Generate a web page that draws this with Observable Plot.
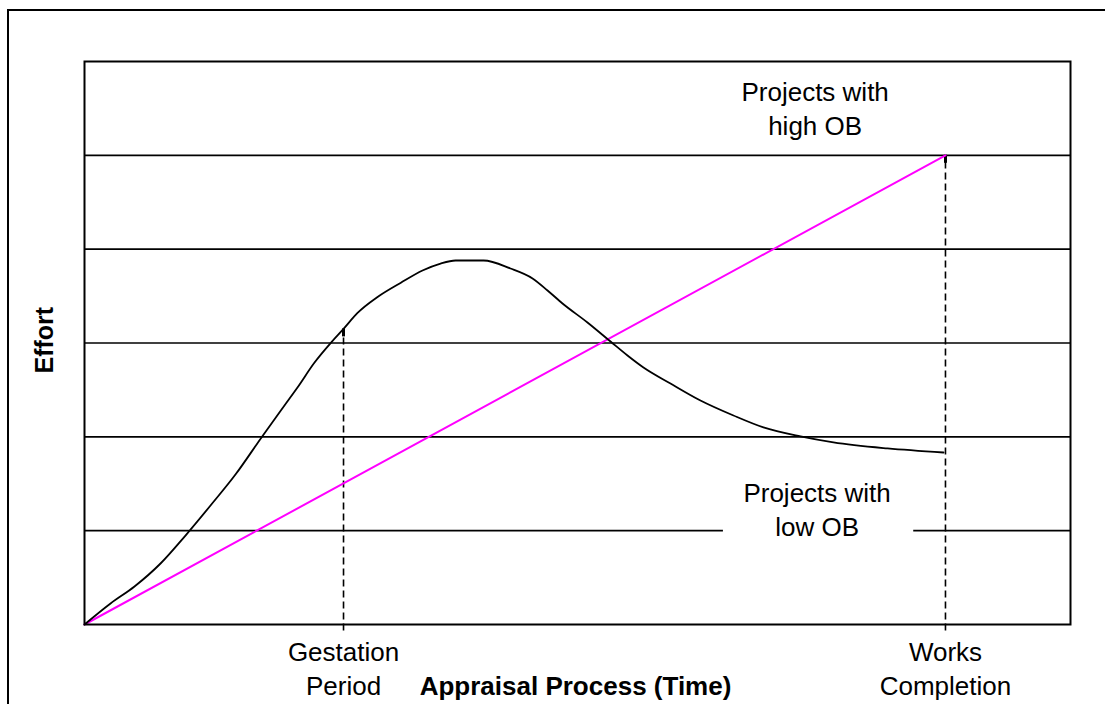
<!DOCTYPE html>
<html>
<head>
<meta charset="utf-8">
<script src="https://cdn.jsdelivr.net/npm/d3@7"></script>
<script src="https://cdn.jsdelivr.net/npm/@observablehq/plot@0.6"></script>
<style>
  html, body { margin: 0; padding: 0; background: #fff; overflow: hidden; }
  #wrap { position: relative; width: 1105px; height: 704px; overflow: hidden; }
  #border { position: absolute; left: 7px; top: 9px; width: 1200px; height: 800px; border-left: 2px solid #000; border-top: 2px solid #000; pointer-events: none; }
  #chart { position: absolute; left: 0; top: 0; }
</style>
</head>
<body>
<div id="wrap"><div id="chart"></div><div id="border"></div></div>
<script>
// Effort curve (time, effort)
const curveTime = [0, 2.64, 5.07, 7.71, 10.24, 12.78, 15.31, 17.95, 20.28, 21.60, 23.33, 25.05, 26.27,
  27.69, 29.72, 32.05, 34.28, 36.11, 37.63, 40.47, 43.20, 45.44, 46.96, 48.48, 51.01, 53.35, 55.07, 56.69, 59.43,
  62.47, 65.82, 68.86, 72.62, 75.96, 81.44, 87.12];
const curveEffort = [0, 0.224, 0.405, 0.650, 0.948, 1.268, 1.598, 1.993, 2.334, 2.526, 2.792, 3.010, 3.150,
  3.320, 3.490, 3.640, 3.773, 3.847, 3.879, 3.879, 3.794, 3.688, 3.560, 3.421, 3.219, 3.016, 2.867, 2.739, 2.568,
  2.387, 2.227, 2.100, 2.004, 1.940, 1.876, 1.833];
// Straight (magenta) line endpoints
const lineTime = [0, 87.32];
const lineEffort = [0, 5];
// Gridlines
const gridFull = [2, 3, 4, 5];
const gridGapped = 1;
const gapStart = 64.8, gapEnd = 84.1;
// Milestones (dashed drop lines)
const milestoneNames = ["Gestation\nPeriod", "Works\nCompletion"];
const milestoneTime = [26.27, 87.32];
const milestoneTop = [3.15, 5];
// Annotations
const annoText = ["Projects with\nhigh OB", "Projects with\nlow OB"];
const annoTime = [74.1, 74.3];
const annoEffort = [5.51, 1.24];
const xTitle = "Appraisal Process (Time)";
const yTitle = "Effort";

const curve = curveTime.map((t, i) => ({t, e: curveEffort[i]}));
const straight = lineTime.map((t, i) => ({t, e: lineEffort[i]}));
const milestones = milestoneTime.map((t, i) => ({t, top: milestoneTop[i], name: milestoneNames[i]}));
const annos = annoText.map((s, i) => ({s, t: annoTime[i], e: annoEffort[i]}));
const gapped = [{y: gridGapped, x1: 0, x2: gapStart}, {y: gridGapped, x1: gapEnd, x2: 100}];

const font = "'Liberation Sans', Arial, Helvetica, sans-serif";
const chart = Plot.plot({
  width: 1105, height: 704,
  marginLeft: 84, marginRight: 35, marginTop: 61, marginBottom: 80,
  style: {fontFamily: font, background: "#fff", color: "#000"},
  x: {domain: [0, 100], axis: null},
  y: {domain: [0, 6], axis: null},
  marks: [
    Plot.ruleY(gridFull, {stroke: "#000", strokeWidth: 1.6}),
    Plot.ruleY(gapped, {y: "y", x1: "x1", x2: "x2", stroke: "#000", strokeWidth: 1.6}),
    Plot.ruleX(milestones, {x: "t", y1: -0.07, y2: "top", stroke: "#000", strokeWidth: 1.6, strokeDasharray: "7,4"}),
    Plot.ruleX(milestones, {x: "t", y1: d => d.top - 0.085, y2: "top", stroke: "#000", strokeWidth: 3}),
    Plot.line(straight, {x: "t", y: "e", stroke: "#ff00ff", strokeWidth: 2}),
    Plot.line(curve, {x: "t", y: "e", stroke: "#000", strokeWidth: 1.8, curve: "monotone-x"}),
    Plot.frame({stroke: "#000", strokeWidth: 2}),
    Plot.text(annos, {x: "t", y: "e", text: "s", fontSize: 26, lineHeight: 1.31, fill: "#000", textAnchor: "middle"}),
    Plot.text(milestones, {x: "t", y: -0.45, text: "name", fontSize: 26, lineHeight: 1.31, fill: "#000", textAnchor: "middle"}),
    Plot.text([xTitle], {x: 49.8, y: -0.66, text: d => d, fontSize: 26, fontWeight: "bold", fill: "#000"}),
    Plot.text([yTitle], {x: -3.96, y: 3.03, text: d => d, fontSize: 25, fontWeight: "bold", rotate: -90, fill: "#000"})
  ]
});
document.getElementById("chart").appendChild(chart);
</script>
</body>
</html>
